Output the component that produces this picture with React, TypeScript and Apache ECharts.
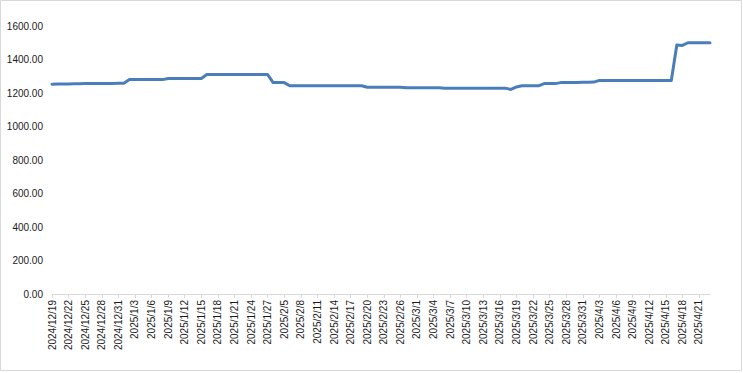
import React, { useEffect, useRef } from "react";
import * as echarts from "echarts";

const dates: string[] = [
  "2024/12/19", "2024/12/20", "2024/12/21", "2024/12/22", "2024/12/23", "2024/12/24", "2024/12/25", "2024/12/26", "2024/12/27", "2024/12/28",
  "2024/12/29", "2024/12/30", "2024/12/31", "2025/1/1", "2025/1/2", "2025/1/3", "2025/1/4", "2025/1/5", "2025/1/6", "2025/1/7",
  "2025/1/8", "2025/1/9", "2025/1/10", "2025/1/11", "2025/1/12", "2025/1/13", "2025/1/14", "2025/1/15", "2025/1/16", "2025/1/17",
  "2025/1/18", "2025/1/19", "2025/1/20", "2025/1/21", "2025/1/22", "2025/1/23", "2025/1/24", "2025/1/25", "2025/1/26", "2025/1/27",
  "2025/2/3", "2025/2/4", "2025/2/5", "2025/2/6", "2025/2/7", "2025/2/8", "2025/2/9", "2025/2/10", "2025/2/11", "2025/2/12",
  "2025/2/13", "2025/2/14", "2025/2/15", "2025/2/16", "2025/2/17", "2025/2/18", "2025/2/19", "2025/2/20", "2025/2/21", "2025/2/22",
  "2025/2/23", "2025/2/24", "2025/2/25", "2025/2/26", "2025/2/27", "2025/2/28", "2025/3/1", "2025/3/2", "2025/3/3", "2025/3/4",
  "2025/3/5", "2025/3/6", "2025/3/7", "2025/3/8", "2025/3/9", "2025/3/10", "2025/3/11", "2025/3/12", "2025/3/13", "2025/3/14",
  "2025/3/15", "2025/3/16", "2025/3/17", "2025/3/18", "2025/3/19", "2025/3/20", "2025/3/21", "2025/3/22", "2025/3/23", "2025/3/24",
  "2025/3/25", "2025/3/26", "2025/3/27", "2025/3/28", "2025/3/29", "2025/3/30", "2025/3/31", "2025/4/1", "2025/4/2", "2025/4/3",
  "2025/4/4", "2025/4/5", "2025/4/6", "2025/4/7", "2025/4/8", "2025/4/9", "2025/4/10", "2025/4/11", "2025/4/12", "2025/4/13",
  "2025/4/14", "2025/4/15", "2025/4/16", "2025/4/17", "2025/4/18", "2025/4/19", "2025/4/20", "2025/4/21", "2025/4/22", "2025/4/23",
];

const values: number[] = [
  1252, 1253, 1254, 1254, 1255, 1255, 1256, 1256, 1256, 1257,
  1257, 1257, 1258, 1258, 1280, 1280, 1280, 1280, 1280, 1280,
  1280, 1287, 1287, 1287, 1287, 1287, 1287, 1287, 1310, 1310,
  1310, 1310, 1310, 1310, 1310, 1310, 1310, 1310, 1310, 1310,
  1262, 1262, 1262, 1243, 1243, 1243, 1243, 1243, 1243, 1243,
  1243, 1243, 1243, 1243, 1243, 1243, 1243, 1234, 1234, 1234,
  1234, 1234, 1234, 1234, 1231, 1231, 1231, 1231, 1231, 1231,
  1231, 1229, 1229, 1229, 1229, 1229, 1229, 1229, 1229, 1229,
  1229, 1229, 1229, 1221, 1236, 1243, 1243, 1243, 1243, 1256,
  1256, 1256, 1262, 1262, 1263, 1263, 1264, 1264, 1265, 1275,
  1275, 1275, 1275, 1275, 1275, 1275, 1275, 1275, 1275, 1275,
  1275, 1275, 1275, 1487, 1484, 1500, 1500, 1500, 1500, 1500,
];

const yMin = 0;
const yMax = 1600;
const yStep = 200;

export default function App() {
  const ref = useRef<HTMLDivElement>(null);
  useEffect(() => {
    if (!ref.current) return;
    const chart = echarts.init(ref.current, undefined, { renderer: "svg" });
    const font = "Liberation Sans";
    chart.setOption({
      animation: false,
      backgroundColor: "#ffffff",
      textStyle: { fontFamily: font },
      graphic: [
        {
          type: "rect",
          shape: { x: 0.5, y: 0.5, width: 741, height: 370 },
          style: { fill: "none", stroke: "#d9d9d9", lineWidth: 1 },
          silent: true,
        },
      ],
      grid: { left: 52, right: 33, top: 26, bottom: 79, containLabel: false },
      xAxis: {
        type: "category",
        data: dates,
        boundaryGap: false,
        axisLine: { show: true, lineStyle: { color: "#d9d9d9", width: 1 } },
        axisTick: { show: true, interval: 2, length: 4, lineStyle: { color: "#d9d9d9" } },
        axisLabel: {
          interval: 2,
          rotate: 90,
          margin: 6,
          fontSize: 10,
          fontFamily: font,
          color: "#1a1a1a",
        },
        splitLine: { show: false },
      },
      yAxis: {
        type: "value",
        min: yMin,
        max: yMax,
        interval: yStep,
        axisLine: { show: false },
        axisTick: { show: false },
        splitLine: { show: false },
        axisLabel: {
          margin: 9,
          fontSize: 10,
          fontFamily: font,
          color: "#1a1a1a",
          formatter: (v: number) => v.toFixed(2),
        },
      },
      series: [
        {
          type: "line",
          data: values,
          showSymbol: false,
          symbol: "none",
          lineStyle: { color: "#4a7ebb", width: 3, cap: "round", join: "round" },
          itemStyle: { color: "#4a7ebb" },
        },
      ],
    });
    return () => chart.dispose();
  }, []);
  return (
    <div
      ref={ref}
      style={{ position: "absolute", left: 0, top: 0, width: 743, height: 373 }}
    />
  );
}
